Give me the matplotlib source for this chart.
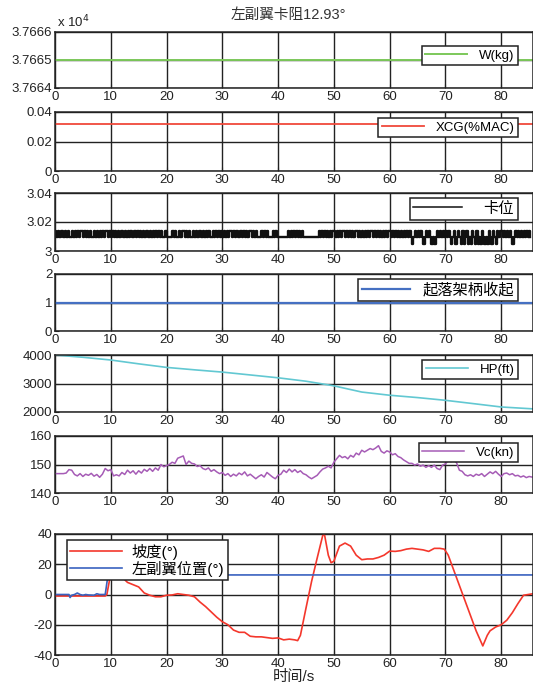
import numpy as np
import matplotlib
matplotlib.use("Agg")
import matplotlib.pyplot as plt
from matplotlib.ticker import FuncFormatter

plt.rcParams['font.family'] = ['Liberation Sans', 'Noto Sans CJK SC', 'DejaVu Sans']
plt.rcParams['axes.unicode_minus'] = False

# ---------------- data ----------------
title = "左副翼卡阻12.93°"
xlabel = "时间/s"
x_ticks = [0, 10, 20, 30, 40, 50, 60, 70, 80]
t_end = 85.7

W_value = 37665.0
W_ticks = [37664, 37665, 37666]
XCG_value = 0.032
XCG_ticks = [0, 0.02, 0.04]
gear_value = 1.0
gear_ticks = [0, 1, 2]

# stuck-position signal: 10-s blocks, H=high, L=low, D=dip
stuck_levels = {"H": 3.0135, "L": 3.0095, "D": 3.0050}
stuck_blocks = [
    "HLHLHHLHLHLLHLHLHLHHLHLHLHLLHLHLHLHLHHLH",
    "LHLHLHLHHLHLHLHLLHLHLHLHLHHLHLHLHLHLHLLH",
    "LLLLHLHLLHLHHLHLHLLHLHLHHLHLHLHLLHLHLHLH",
    "LHLHLHHLHLHLLHLHLHLHHLHLHLLLHLHLHLLLHLHL",
    "LLLLLLLHLHLHLHLHLHLLLLLLLLLLLHLHLHLHLHLH",
    "HLHLHLHHLHLHLHLHHLHLHLHLHLHHLHLHLHLHLHLH",
    "HLHLHLHLHLHLHLHLDLHLHLHLDLHLHLDLDLHLHLHL",
    "HLHLDLHDLHLDHDLHDLDHLDHDLDHLDLDHLDHLDHLH",
    "HLHLHLHLDLHLHLHLHLHLHL",
]
stuck_ticks = [3, 3.02, 3.04]

HP_t = [0, 5, 10, 15, 20, 25, 30, 35, 40, 45, 47.5, 50, 55, 60, 65, 70, 75, 80, 85.7]
HP_v = [4000, 3920, 3824, 3690, 3565, 3480, 3400, 3300, 3200, 3080, 3000, 2918,
        2700, 2588, 2506, 2410, 2294, 2176, 2110]
HP_ticks = [2000, 3000, 4000]

Vc_v = [146.8, 146.8, 146.8, 146.8, 147.0, 148.2, 148.0, 146.5, 146.0, 146.8,
        145.8, 146.6, 146.2, 146.9, 145.9, 146.5, 145.5, 146.6, 148.6, 147.8,
        148.2, 146.0, 146.4, 146.0, 147.2, 146.5, 148.0, 147.0, 147.8, 146.6,
        147.8, 147.0, 148.3, 147.6, 148.6, 147.6, 148.8, 148.0, 150.0, 149.2,
        149.6, 150.0, 150.8, 150.4, 152.2, 152.6, 153.0, 150.0, 151.2, 150.4,
        150.2, 149.3, 149.6, 148.6, 148.2, 148.8, 147.6, 148.2, 147.4, 146.8,
        147.2, 146.2, 146.8, 145.8, 146.6, 146.0, 147.0, 146.4, 147.4, 146.0,
        146.6, 145.8, 145.0, 145.8, 146.4, 145.6, 147.2, 146.4, 145.6, 145.0,
        146.2, 146.6, 148.0, 147.2, 148.4, 147.4, 148.2, 147.2, 147.8, 146.8,
        146.4, 145.6, 145.0, 145.6, 146.2, 147.4, 148.4, 148.8, 149.4, 148.8,
        150.8, 152.0, 153.2, 152.4, 152.8, 152.0, 153.2, 152.6, 154.0, 153.4,
        155.0, 154.4, 155.0, 155.6, 155.2, 155.8, 156.6, 154.6, 154.0, 154.8,
        154.4, 153.4, 153.8, 152.8, 152.4, 151.6, 151.0, 150.4, 150.4, 149.8,
        150.2, 149.4, 149.8, 149.0, 149.6, 149.0, 149.8, 148.6, 148.2, 149.8,
        150.2, 151.4, 151.0, 151.6, 150.6, 148.0, 147.6, 146.4, 146.0, 146.4,
        145.8, 146.6, 146.2, 146.8, 145.8, 146.6, 147.4, 146.8, 147.6, 146.6,
        145.8, 146.8, 147.0, 146.4, 146.8, 146.0, 146.2, 145.6, 146.0, 145.4,
        145.8, 145.6]
Vc_step = 0.5
Vc_ticks = [140, 150, 160]

slope_t = [0, 2, 4, 6, 8, 9, 9.3, 9.7, 10, 10.5, 11, 12, 13, 14, 15, 16, 17, 18, 19,
           20, 21, 22, 23, 24, 25, 26, 27, 28, 29, 30, 31, 32, 33, 34, 35, 36, 37, 38,
           39, 40, 41, 42, 43, 43.5, 44, 45, 46, 47, 48, 48.3, 49, 49.5, 50, 51, 52,
           53, 54, 55, 56, 57, 58, 59, 60, 61, 62, 63, 64, 65, 66, 67, 68, 69, 69.8,
           70.5, 71.5, 72.5, 73.5, 74.5, 75.5, 76.7, 77.5, 78, 79, 80, 81, 82, 83,
           84, 85.7]
slope_v = [-1, -1, -1, -1, -1, -1, 0, 8, 15, 17, 16, 11.5, 8, 6.5, 5, 1, -0.5,
           -1.5, -1.5, -0.5, -0.3, 0.5, 0, -0.5, -1.5, -5, -8, -11.5, -15, -18, -20,
           -23.5, -25, -25, -27.6, -28, -28, -28.5, -29, -28.7, -30, -29.5, -30,
           -30.5, -27, -9, 8.6, 24, 39, 40, 26, 21, 22, 32, 34, 32, 26, 23, 23.5,
           23.5, 24.5, 26, 28.7, 28.5, 29, 30, 30.5, 30, 29.5, 28.5, 30.5, 30.5, 30,
           26, 16, 6, -4, -14, -24, -34, -27, -24, -21.5, -20, -17, -12, -6, -0.5, 0.5]
aileron_t = [0, 2.5, 2.7, 3.0, 3.5, 4.0, 4.5, 5.0, 5.5, 6.0, 7.0, 7.5, 8.0, 9.0,
             9.2, 9.5, 85.7]
aileron_v = [0, 0, -2, -0.5, 0, 1, 0, -0.5, 0, -0.3, -0.5, 0.5, 0, 0, 5, 12.93, 12.93]
bottom_ticks = [-40, -20, 0, 20, 40]

# ---------------- figure ----------------
W_px, H_px = 533, 683
fig = plt.figure(figsize=(W_px / 100, H_px / 100), dpi=100)

left_px, right_px = 55, 533
panels_px = [(32, 88), (112, 171), (193, 251), (274, 331), (355, 412),
             (436, 493), (534, 655)]
legend_px = [(518, 46), (518, 118), (518, 198), (518, 279), (518, 360),
             (518, 443), (228, 540)]
grid_col = '#222222'


def make_ax(i):
    top, bot = panels_px[i]
    ax = fig.add_axes([left_px / W_px, 1 - bot / H_px,
                       (right_px - left_px) / W_px, (bot - top) / H_px])
    ax.set_xlim(0, t_end)
    ax.set_xticks(x_ticks)
    ax.grid(True, color=grid_col, lw=1.0)
    ax.set_axisbelow(True)
    for s in ax.spines.values():
        s.set_color(grid_col)
        s.set_linewidth(1.1)
    ax.tick_params(direction='in', length=3, labelsize=9.5, pad=2,
                   colors='#222222')
    return ax


def add_legend(ax, i, loc='upper right', fs=9.5, spacing=0.15, hl=3.2, htp=0.9):
    x, y = legend_px[i]
    leg = ax.legend(loc=loc, bbox_to_anchor=(x / W_px, 1 - y / H_px),
                    bbox_transform=fig.transFigure, fancybox=False,
                    framealpha=1, edgecolor='#222222', fontsize=fs,
                    handlelength=hl, borderaxespad=0, borderpad=0.25,
                    labelspacing=spacing, handletextpad=htp)
    leg.get_frame().set_linewidth(1.1)
    return leg


# Panel 1: W
ax = make_ax(0)
ax.plot([0, t_end], [W_value, W_value], color='#7cc85a', lw=1.4, label='W(kg)')
ax.set_ylim(W_ticks[0], W_ticks[-1])
ax.set_yticks(W_ticks)
ax.yaxis.set_major_formatter(FuncFormatter(lambda v, p: f"{v / 1e4:.4f}"))
add_legend(ax, 0)
fig.text(57 / W_px, 1 - 22 / H_px, r"x 10$^{4}$", fontsize=9.5,
         va='center', ha='left', color='#222222')

# Panel 2: XCG
ax = make_ax(1)
ax.plot([0, t_end], [XCG_value, XCG_value], color='#f0493b', lw=1.3, label='XCG(%MAC)')
ax.set_ylim(XCG_ticks[0], XCG_ticks[-1])
ax.set_yticks(XCG_ticks)
ax.yaxis.set_major_formatter(FuncFormatter(lambda v, p: "0" if v == 0 else f"{v:.2f}"))
add_legend(ax, 1)

# Panel 3: stuck position
ax = make_ax(2)
st_t, st_v = [], []
for b, block in enumerate(stuck_blocks):
    n = len(block)
    span = 10 if b < len(stuck_blocks) - 1 else n * 0.25
    for k, c in enumerate(block):
        st_t.append(b * 10 + k * span / n)
        st_v.append(stuck_levels[c])
ax.plot(st_t, st_v, color='#111111', lw=1.7, drawstyle='steps-post', label='卡位')
ax.set_ylim(stuck_ticks[0], stuck_ticks[-1])
ax.set_yticks(stuck_ticks)
ax.yaxis.set_major_formatter(FuncFormatter(lambda v, p: "3" if abs(v - 3) < 1e-9 else f"{v:.2f}"))
leg = add_legend(ax, 2, fs=11, hl=3.2, htp=1.4)
leg.get_lines()[0].set_linewidth(1.1)

# Panel 4: gear
ax = make_ax(3)
ax.plot([0, t_end], [gear_value, gear_value], color='#4570c2', lw=1.6, label='起落架柄收起')
ax.set_ylim(gear_ticks[0], gear_ticks[-1])
ax.set_yticks(gear_ticks)
add_legend(ax, 3, fs=11, hl=3.2, htp=0.8)

# Panel 5: HP
ax = make_ax(4)
ax.plot(HP_t, HP_v, color='#62c8d2', lw=1.2, label='HP(ft)')
ax.set_ylim(HP_ticks[0], HP_ticks[-1])
ax.set_yticks(HP_ticks)
add_legend(ax, 4)

# Panel 6: Vc
ax = make_ax(5)
vc_t = np.arange(len(Vc_v)) * Vc_step
ax.plot(vc_t, Vc_v, color='#a65cb6', lw=1.1, label='Vc(kn)')
ax.set_ylim(Vc_ticks[0], Vc_ticks[-1])
ax.set_yticks(Vc_ticks)
add_legend(ax, 5)

# Panel 7: slope and aileron
ax = make_ax(6)
ax.plot(slope_t, slope_v, color='#f4372c', lw=1.2, label='坡度(°)')
ax.plot(aileron_t, aileron_v, color='#3a62c0', lw=1.2, label='左副翼位置(°)')
ax.set_ylim(bottom_ticks[0], bottom_ticks[-1])
ax.set_yticks(bottom_ticks)
add_legend(ax, 6, loc='upper right', fs=11, spacing=0.05, hl=3.4, htp=0.6)
ax.set_xlabel(xlabel, fontsize=11, labelpad=0, color='#222222')

fig.text(288 / W_px, 1 - 15 / H_px, title, fontsize=10.5, ha='center',
         va='center', color='#333333')

fig.savefig("out.png", dpi=100)
